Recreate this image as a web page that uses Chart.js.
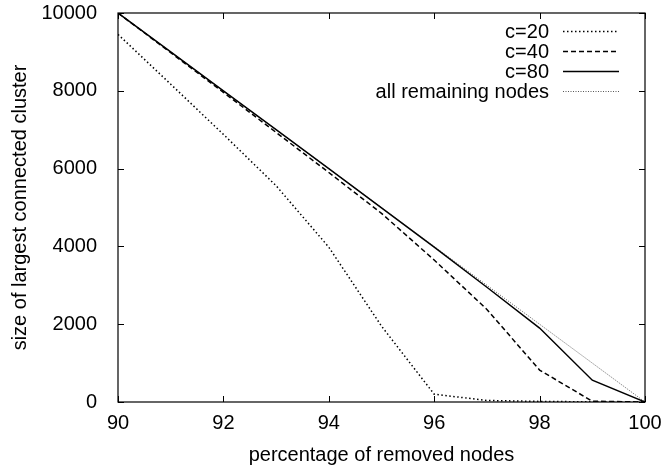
<!DOCTYPE html>
<html>
<head>
<meta charset="utf-8">
<script src="https://cdn.jsdelivr.net/npm/chart.js@4/dist/chart.umd.min.js"></script>
<style>
  html, body { margin: 0; padding: 0; background: #fff; }
  #wrap { width: 662px; height: 470px; }
</style>
</head>
<body>
<div id="wrap"><canvas id="c" width="662" height="470"></canvas></div>
<script>
// ---- data ----
const xValues = [90, 91, 92, 93, 94, 95, 96, 97, 98, 99, 100];
const c20 = [9450, 8170, 6880, 5560, 3980, 1950, 200, 40, 15, 5, 0];
const c40 = [10000, 8980, 7960, 6930, 5900, 4850, 3650, 2380, 820, 20, 0];
const c80 = [10000, 9000, 8000, 7000, 6000, 4990, 3980, 2950, 1900, 560, 0];
const allRemaining = [10000, 9000, 8000, 7000, 6000, 5000, 4000, 3000, 2000, 1000, 0];
const seriesLabels = ['c=20', 'c=40', 'c=80', 'all remaining nodes'];
const xTickValues = [90, 92, 94, 96, 98, 100];
const yTickValues = [0, 2000, 4000, 6000, 8000, 10000];
const xTitle = 'percentage of removed nodes';
const yTitle = 'size of largest connected cluster';

const FONT = "'Liberation Sans', Arial, Helvetica, sans-serif";

function pts(ys) { return xValues.map((x, i) => ({ x: x, y: ys[i] })); }

const styles = [
  { borderColor: '#000', borderWidth: 1.5, borderDash: [1.5, 2.5] },
  { borderColor: '#000', borderWidth: 1.5, borderDash: [5, 3] },
  { borderColor: '#000', borderWidth: 1.5, borderDash: [] },
  { borderColor: '#444', borderWidth: 0.9, borderDash: [1, 1.5] }
];
const seriesData = [c20, c40, c80, allRemaining];

const datasets = seriesData.map((d, i) => Object.assign({
  label: seriesLabels[i],
  data: pts(d),
  pointRadius: 0,
  tension: 0,
  fill: false
}, styles[i]));

const framePlugin = {
  id: 'frame',
  afterDatasetsDraw(chart) {
    const { ctx, chartArea: a, scales } = chart;
    const tl = 6;
    ctx.save();
    ctx.strokeStyle = '#000';
    ctx.lineWidth = 1.2;
    ctx.setLineDash([]);
    ctx.strokeRect(a.left, a.top, a.right - a.left, a.bottom - a.top);
    ctx.beginPath();
    xTickValues.forEach(v => {
      const px = Math.round(scales.x.getPixelForValue(v)) + 0.5;
      ctx.moveTo(px, a.bottom); ctx.lineTo(px, a.bottom - tl);
      ctx.moveTo(px, a.top); ctx.lineTo(px, a.top + tl);
    });
    yTickValues.forEach(v => {
      const py = Math.round(scales.y.getPixelForValue(v)) + 0.5;
      ctx.moveTo(a.left, py); ctx.lineTo(a.left + tl, py);
      ctx.moveTo(a.right, py); ctx.lineTo(a.right - tl, py);
    });
    ctx.lineWidth = 1;
    ctx.stroke();

    // gnuplot-style key (top right, inside)
    const textRight = 549, lineL = 563, lineR = 619;
    const rows = [31, 51, 71, 91];
    ctx.font = '20px ' + FONT;
    ctx.textAlign = 'right';
    ctx.textBaseline = 'middle';
    ctx.fillStyle = '#000';
    chart.data.datasets.forEach((ds, i) => {
      const y = rows[i];
      ctx.fillText(ds.label, textRight, y + 1);
      ctx.beginPath();
      ctx.strokeStyle = ds.borderColor;
      ctx.lineWidth = ds.borderWidth;
      ctx.setLineDash(ds.borderDash);
      ctx.moveTo(lineL, y + 0.5); ctx.lineTo(lineR, y + 0.5);
      ctx.stroke();
    });
    ctx.restore();
  }
};

new Chart(document.getElementById('c'), {
  type: 'line',
  data: { datasets: datasets },
  options: {
    responsive: false,
    animation: false,
    devicePixelRatio: 1,
    layout: { padding: { left: 0, right: 17, top: 13, bottom: 0 } },
    plugins: { legend: { display: false }, tooltip: { enabled: false } },
    scales: {
      x: {
        type: 'linear',
        min: 90, max: 100,
        afterFit(s) { s.height = 68; s.paddingLeft = 0; s.paddingRight = 0; },
        afterBuildTicks(s) { s.ticks = xTickValues.map(v => ({ value: v })); },
        grid: { display: false },
        border: { display: false },
        ticks: { color: '#000', font: { family: FONT, size: 20 }, padding: 1, maxRotation: 0, autoSkip: false },
        title: { display: true, text: xTitle, color: '#000', font: { family: FONT, size: 20 }, padding: { top: 0, bottom: 3 } }
      },
      y: {
        type: 'linear',
        min: 0, max: 10000,
        afterFit(s) { s.width = 118; s.paddingTop = 0; s.paddingBottom = 0; },
        afterBuildTicks(s) { s.ticks = yTickValues.map(v => ({ value: v })); },
        grid: { display: false },
        border: { display: false },
        ticks: { color: '#000', font: { family: FONT, size: 20 }, padding: 13, autoSkip: false, callback: v => String(v) },
        title: { display: true, text: yTitle, color: '#000', font: { family: FONT, size: 20 }, padding: { top: 8, bottom: 0 } }
      }
    }
  },
  plugins: [framePlugin]
});
</script>
</body>
</html>
